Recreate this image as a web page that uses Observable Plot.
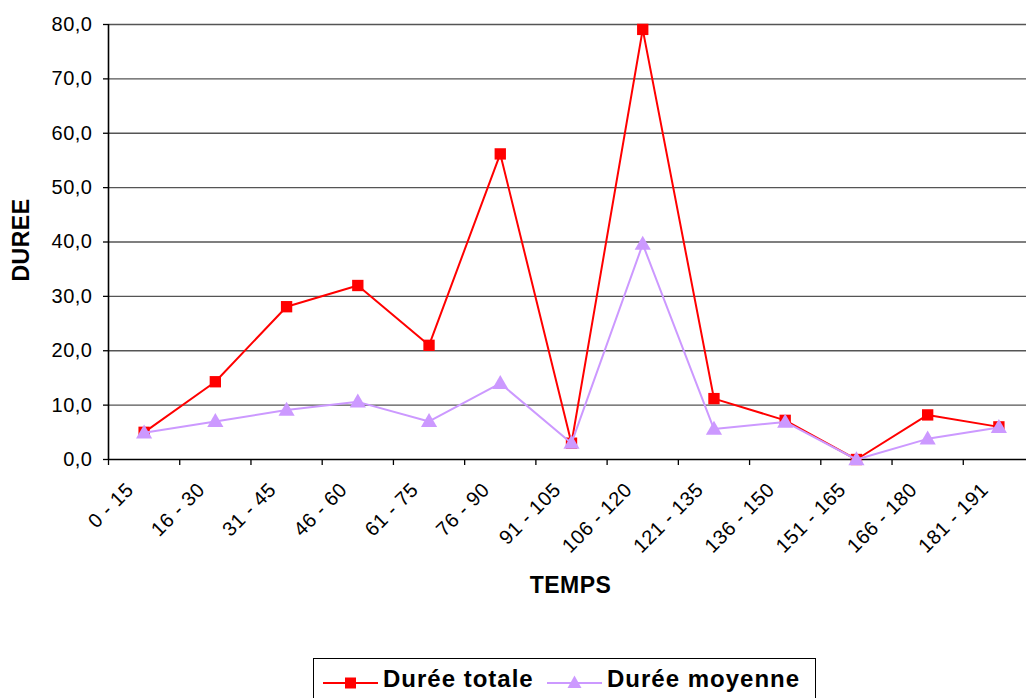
<!DOCTYPE html>
<html>
<head>
<meta charset="utf-8">
<script src="https://cdn.jsdelivr.net/npm/d3@7"></script>
<script src="https://cdn.jsdelivr.net/npm/@observablehq/plot@0.6"></script>
<style>
  html, body { margin: 0; padding: 0; background: white; overflow: hidden; width: 1026px; height: 698px; }
  #chart svg { display: block; }
  #legend { position: absolute; left: 313px; top: 658px; width: 503px; height: 46px; border: 1px solid #000; box-sizing: border-box; background: white; font-family: "Liberation Sans", Arial, sans-serif; font-weight: bold; font-size: 24px; letter-spacing: 1px; color: #000; }
  #legend .sw { position: absolute; top: 12px; }
  #legend .lab { position: absolute; top: 6px; line-height: 28px; white-space: nowrap; }
</style>
</head>
<body>
<div id="chart"></div>
<div id="legend"></div>
<script>
const categories = ["0 - 15","16 - 30","31 - 45","46 - 60","61 - 75","76 - 90","91 - 105","106 - 120","121 - 135","136 - 150","151 - 165","166 - 180","181 - 191"];
const dureeTotale  = [5.0, 14.3, 28.1, 32.0, 21.0, 56.2, 3.0, 79.1, 11.2, 7.2, 0.0, 8.2, 6.0];
const dureeMoyenne = [4.9, 7.0, 9.1, 10.6, 7.0, 14.0, 3.0, 39.6, 5.6, 6.9, 0.0, 3.8, 5.9];
const yTicks = [0, 10, 20, 30, 40, 50, 60, 70, 80];
const yTickLabels = ["0,0","10,0","20,0","30,0","40,0","50,0","60,0","70,0","80,0"];
const seriesNames = ["Durée totale", "Durée moyenne"];
const xTitle = "TEMPS";
const yTitle = "DUREE";

const RED = "#ff0000", LILAC = "#cc99ff";
const rows = categories.map((c, i) => ({i: i + 0.5, c, total: dureeTotale[i], moyenne: dureeMoyenne[i]}));

const chart = Plot.plot({
  width: 1026,
  height: 640,
  marginLeft: 108,
  marginRight: 0,
  marginTop: 24,
  marginBottom: 181,
  x: {domain: [0, categories.length], range: [108, 1034]},
  y: {domain: [0, 80], range: [459, 24]},
  style: {fontFamily: "'Liberation Sans', Arial, sans-serif", fontSize: "20px", color: "#000", background: "white", letterSpacing: "0.5px"},
  marks: [
    Plot.ruleY(yTicks.filter(d => d > 0), {stroke: "#555", strokeWidth: 1.3}),
    Plot.ruleY([0], {stroke: "#000", strokeWidth: 1.6}),
    Plot.ruleX([0], {stroke: "#000", strokeWidth: 1.6}),
    Plot.axisY({ticks: yTicks, tickFormat: d => yTickLabels[yTicks.indexOf(d)], tickSize: 5, tickPadding: 11, fontSize: 20, label: null, stroke: "#000", strokeWidth: 1.3}),
    Plot.axisX({ticks: d3.range(0, categories.length + 1), tickFormat: () => "", tickSize: 6, label: null, stroke: "#000", strokeWidth: 1.3}),
    Plot.text(rows, {x: "i", text: "c", frameAnchor: "bottom", lineAnchor: "middle", textAnchor: "end", rotate: -45, dx: -14, dy: 27, fontSize: 20}),
    Plot.text([yTitle], {frameAnchor: "left", textAnchor: "middle", lineAnchor: "middle", rotate: -90, dx: -87, dy: -2, fontWeight: "bold", fontSize: 23}),
    Plot.text([xTitle], {frameAnchor: "bottom", textAnchor: "middle", lineAnchor: "middle", dy: 126, dx: 3, fontWeight: "bold", fontSize: 23}),
    Plot.line(rows, {x: "i", y: "total", stroke: RED, strokeWidth: 2}),
    Plot.dot(rows, {x: "i", y: "total", symbol: "square", r: 6.4, fill: RED, stroke: "none"}),
    Plot.line(rows, {x: "i", y: "moyenne", stroke: LILAC, strokeWidth: 2}),
    Plot.dot(rows, {x: "i", y: "moyenne", symbol: "triangle", r: 6, fill: LILAC, stroke: "none", dy: 1})
  ]
});
document.getElementById("chart").appendChild(chart);

// Legend
const legend = document.getElementById("legend");
const items = [
  {name: seriesNames[0], color: RED, shape: "square", swLeft: 9, labLeft: 69},
  {name: seriesNames[1], color: LILAC, shape: "triangle", swLeft: 233, labLeft: 293}
];
items.forEach(it => {
  const sw = d3.create("svg").attr("class", "sw").attr("width", 56).attr("height", 24)
    .style("left", it.swLeft + "px");
  sw.append("line").attr("x1", 0).attr("x2", 55).attr("y1", 12).attr("y2", 12)
    .attr("stroke", it.color).attr("stroke-width", 2);
  if (it.shape === "square") {
    sw.append("rect").attr("x", 22).attr("y", 6.5).attr("width", 11).attr("height", 11).attr("fill", it.color);
  } else {
    sw.append("path").attr("d", "M27.5,4.5 L34.5,17 L20.5,17 Z").attr("fill", it.color);
  }
  legend.appendChild(sw.node());
  const lab = document.createElement("span");
  lab.className = "lab";
  lab.style.left = it.labLeft + "px";
  lab.textContent = it.name;
  legend.appendChild(lab);
});
</script>
</body>
</html>
